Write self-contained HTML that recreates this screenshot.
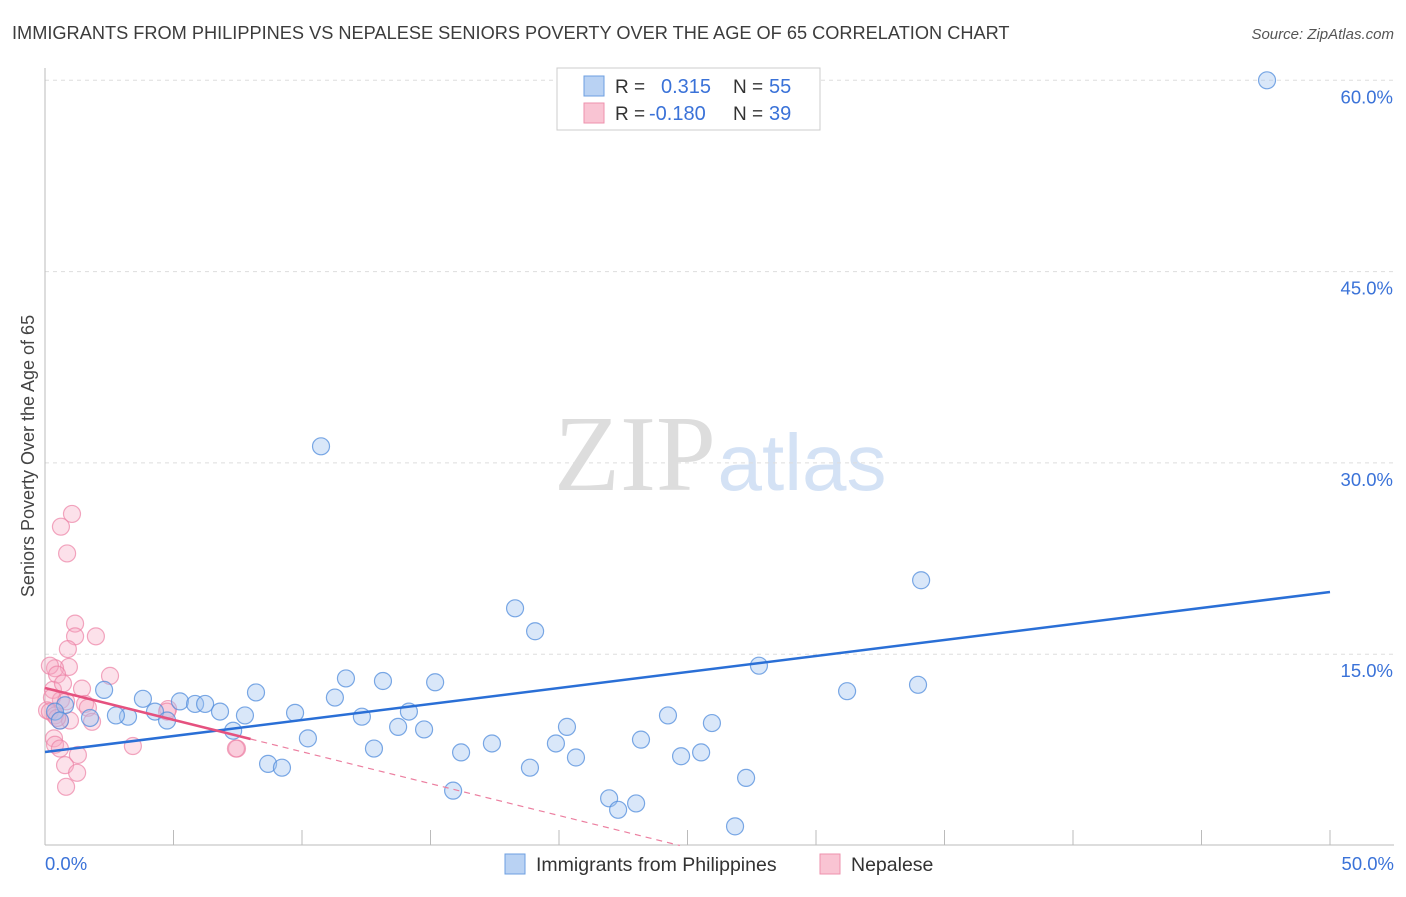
<!DOCTYPE html>
<html><head><meta charset="utf-8"><style>
body{margin:0;background:#fff;font-family:"Liberation Sans",sans-serif;}
</style></head><body>
<svg id="chart" width="1406" height="892" xmlns="http://www.w3.org/2000/svg" font-family="Liberation Sans, sans-serif">
<text x="12" y="39" font-size="18.2" fill="#3c3c3c">IMMIGRANTS FROM PHILIPPINES VS NEPALESE SENIORS POVERTY OVER THE AGE OF 65 CORRELATION CHART</text>
<text x="1394" y="39" font-size="15" fill="#555" font-style="italic" text-anchor="end">Source: ZipAtlas.com</text>
<text transform="translate(34,456) rotate(-90)" font-size="18" fill="#444" text-anchor="middle">Seniors Poverty Over the Age of 65</text>
<g><text x="635" y="490" font-size="108" fill="#ddd" font-family="Liberation Serif, serif" text-anchor="middle">ZIP</text><text x="802" y="490" font-size="80" fill="#d4e2f5" text-anchor="middle">atlas</text></g>
<g id="grid"></g><g id="axes"></g><g id="marks"></g>
<g>
<rect x="557" y="68" width="263" height="62" fill="#fff" stroke="#ccc"/>
<rect x="584" y="76" width="20" height="20" fill="#b9d2f3" stroke="#6d9fe0"/>
<rect x="584" y="103" width="20" height="20" fill="#f9c4d3" stroke="#ee92ad"/>
<text x="615" y="93" font-size="19" fill="#333">R =</text><text x="661" y="93" font-size="20" fill="#3a72d8">0.315</text>
<text x="733" y="93" font-size="19" fill="#333">N =</text><text x="769" y="93" font-size="20" fill="#3a72d8">55</text>
<text x="615" y="120" font-size="19" fill="#333">R =</text><text x="649" y="120" font-size="20" fill="#3a72d8">-0.180</text>
<text x="733" y="120" font-size="19" fill="#333">N =</text><text x="769" y="120" font-size="20" fill="#3a72d8">39</text>
</g>
<g>
<rect x="505" y="854" width="20" height="20" fill="#b9d2f3" stroke="#6d9fe0"/>
<text x="536" y="871" font-size="19.5" fill="#333">Immigrants from Philippines</text>
<rect x="820" y="854" width="20" height="20" fill="#f9c4d3" stroke="#ee92ad"/>
<text x="851" y="871" font-size="19.5" fill="#333">Nepalese</text>
</g>
</svg>
<script>
const yTicks=[15,30,45,60];
const yTickLabels=["15.0%","30.0%","45.0%","60.0%"];
const xTickLabels=["0.0%","50.0%"];
const blueX=[47.55,10.74,34.09,18.29,19.07,27.78,31.21,33.97,2.30,3.81,5.25,5.84,6.23,6.81,8.21,7.78,9.73,11.28,11.71,13.15,15.18,12.33,14.16,13.74,14.75,3.23,2.76,4.28,4.75,1.75,7.32,10.23,12.80,16.19,17.39,19.88,20.31,20.66,23.19,24.24,25.95,24.75,25.53,27.28,18.87,8.68,9.22,15.88,21.95,23.0,22.30,26.85,0.78,0.39,0.58];
const blueY=[60.0,31.3,20.8,18.6,16.8,14.1,12.1,12.6,12.2,11.5,11.3,11.1,11.1,10.5,12.0,10.2,10.4,11.6,13.1,12.9,12.8,10.1,10.5,9.3,9.1,10.1,10.2,10.5,9.8,10.0,9.0,8.4,7.6,7.3,8.0,8.0,9.3,6.9,8.3,10.2,9.6,7.0,7.3,5.3,6.1,6.4,6.1,4.3,3.7,3.3,2.8,1.5,11.0,10.5,9.8];
const pinkX=[1.05,0.62,0.86,1.17,1.17,1.98,0.89,0.93,0.39,0.19,0.47,2.53,0.31,0.70,1.44,0.62,1.56,0.27,0.82,1.67,0.08,0.19,0.39,0.58,0.97,1.83,0.47,4.79,4.75,3.42,7.47,7.43,0.35,0.39,0.58,1.28,0.78,1.25,0.82];
const pinkY=[26.0,25.0,22.9,17.4,16.4,16.4,15.4,14.0,13.9,14.1,13.4,13.3,12.2,12.7,12.3,11.4,11.1,11.6,11.3,10.8,10.6,10.5,10.2,9.8,9.8,9.7,10.0,10.7,10.5,7.8,7.6,7.6,8.4,7.9,7.6,7.1,6.3,5.7,4.6];
const blueLine=[7.33,19.88]; // y at x=0 and x=50
const pinkLine=[12.35,-0.5,8]; // intercept, slope, solid end
const NS="http://www.w3.org/2000/svg";
const sx=v=>45+v/50*1285, sy=v=>845.5-v/15*191.3;
function mk(tag,attrs,parent){const e=document.createElementNS(NS,tag);for(const k in attrs)e.setAttribute(k,attrs[k]);document.getElementById(parent).appendChild(e);return e;}
yTicks.forEach((t,i)=>{
 const l=mk('line',{x1:45,x2:1394,y1:sy(t),y2:sy(t),stroke:'#ddd','stroke-dasharray':'4,4'},'grid');
 
 
 const tx=mk('text',{x:1393,y:sy(t)+23,'font-size':18.5,fill:'#3a72d8','text-anchor':'end'},'axes');
 tx.textContent=yTickLabels[i];
 
 
});
const ax=mk('line',{x1:45,x2:45,y1:68,y2:845,stroke:'#bbb'},'axes');


const bx=mk('line',{x1:45,x2:1394,y1:845,y2:845,stroke:'#bbb'},'axes');


for(let v=0;v<=50;v+=5){const t=mk('line',{x1:sx(v),x2:sx(v),y1:830,y2:845,stroke:'#bbb'},'axes');
 
 }
[[0,'start',45],[1,'end',1394]].forEach(([i,a,x])=>{const t=mk('text',{x:x,y:870,'font-size':18.5,fill:'#3a72d8','text-anchor':a},'axes');t.textContent=xTickLabels[i];
 
 });
pinkX.forEach((x,i)=>{const c=mk('circle',{cx:sx(x),cy:sy(pinkY[i]),r:8.5,fill:'rgba(246,170,195,0.35)',stroke:'rgba(236,130,165,0.7)','stroke-width':1.2},'marks');
 
 });
blueX.forEach((x,i)=>{const c=mk('circle',{cx:sx(x),cy:sy(blueY[i]),r:8.5,fill:'rgba(160,195,240,0.4)',stroke:'rgba(80,140,220,0.75)','stroke-width':1.2},'marks');
 
 });
const bl=mk('line',{x1:sx(0),y1:sy(blueLine[0]),x2:sx(50),y2:sy(blueLine[1]),stroke:'#2a6fd6','stroke-width':2.5},'marks');


const pe=-pinkLine[0]/pinkLine[1];
const pd=mk('line',{x1:sx(pinkLine[2]),y1:sy(pinkLine[0]+pinkLine[1]*pinkLine[2]),x2:sx(pe),y2:sy(0),stroke:'#ec7fa0','stroke-width':1.2,'stroke-dasharray':'6,5'},'marks');


const pl=mk('line',{x1:sx(0),y1:sy(pinkLine[0]),x2:sx(pinkLine[2]),y2:sy(pinkLine[0]+pinkLine[1]*pinkLine[2]),stroke:'#e5517f','stroke-width':2.5},'marks');


</script>
</body></html>
